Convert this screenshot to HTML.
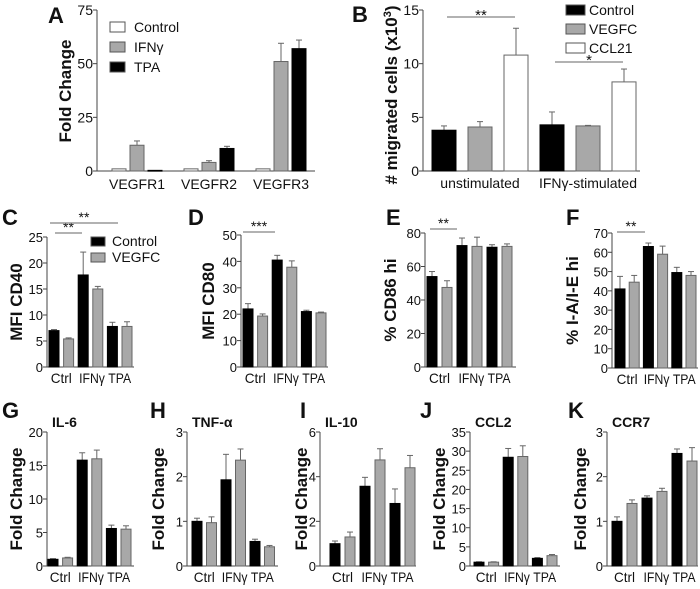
<!DOCTYPE html>
<html><head><meta charset="utf-8">
<style>
html,body{margin:0;padding:0;background:#fff;}
svg{display:block;font-family:"Liberation Sans",Arial,sans-serif;}
</style></head>
<body>
<svg id="fig" width="700" height="589" viewBox="0 0 700 589" xmlns="http://www.w3.org/2000/svg"></svg>
<script>
// ---------- Panel A data ----------
const aCategories = ["VEGFR1","VEGFR2","VEGFR3"];
const aSeries = ["Control","IFNγ","TPA"];
const aControl = [1, 1, 1];
const aIFN = [12, 4, 51];
const aTPA = [0.3, 10.5, 57];
const aControlErr = [0, 0, 0];
const aIFNErr = [2, 0.8, 8.5];
const aTPAErr = [0, 1, 4];
const aTicks = [0, 25, 50, 75];
// ---------- Panel B data ----------
const bCategories = ["unstimulated","IFNγ-stimulated"];
const bSeries = ["Control","VEGFC","CCL21"];
const bControl = [3.8, 4.3];
const bVEGFC = [4.1, 4.2];
const bCCL21 = [10.8, 8.3];
const bControlErr = [0.4, 1.2];
const bVEGFCErr = [0.5, 0.05];
const bCCL21Err = [2.5, 1.2];
const bTicks = [0, 5, 10, 15];
// ---------- Panels C-K data (Ctrl, IFNγ, TPA) ----------
const condLabels = ["Ctrl","IFNγ TPA"];
const cControl = [7, 17.7, 7.8], cVEGFC = [5.4, 15, 7.8];
const cControlErr = [0.2, 4.4, 0.8], cVEGFCErr = [0.2, 0.5, 0.9];
const cTicks = [0,5,10,15,20,25];
const dControl = [22, 40.5, 21], dVEGFC = [19.3, 37.8, 20.5];
const dControlErr = [2, 1.8, 0.5], dVEGFCErr = [0.8, 2.4, 0.3];
const dTicks = [0,10,20,30,40,50];
const eControl = [54, 72.5, 71.5], eVEGFC = [47.5, 72, 72];
const eControlErr = [3, 4.5, 1.5], eVEGFCErr = [4, 5.5, 1.5];
const eTicks = [0,20,40,60,80];
const fControl = [41, 63, 49.5], fVEGFC = [44.5, 59, 48];
const fControlErr = [6.5, 1.8, 2.7], fVEGFCErr = [3.5, 4.2, 2];
const fTicks = [0,10,20,30,40,50,60,70];
const gControl = [1, 15.8, 5.6], gVEGFC = [1.2, 16, 5.5];
const gControlErr = [0.1, 1.1, 0.5], gVEGFCErr = [0.1, 1.3, 0.5];
const gTicks = [0,5,10,15,20];
const hControl = [1, 1.93, 0.55], hVEGFC = [0.97, 2.37, 0.43];
const hControlErr = [0.07, 0.57, 0.05], hVEGFCErr = [0.13, 0.25, 0.03];
const hTicks = [0,1,2,3];
const iControl = [1, 3.57, 2.8], iVEGFC = [1.3, 4.75, 4.4];
const iControlErr = [0.12, 0.4, 0.65], iVEGFCErr = [0.22, 0.5, 0.55];
const iTicks = [0,2,4,6];
const jControl = [1, 28.4, 2], jVEGFC = [1, 28.6, 2.7];
const jControlErr = [0.1, 2.3, 0.2], jVEGFCErr = [0.1, 2.8, 0.3];
const jTicks = [0,5,10,15,20,25,30,35];
const kControl = [1, 1.52, 2.52], kVEGFC = [1.4, 1.67, 2.35];
const kControlErr = [0.1, 0.05, 0.1], kVEGFCErr = [0.08, 0.07, 0.3];
const kTicks = [0,1,2,3];

const NS = "http://www.w3.org/2000/svg";
const svg = document.getElementById('fig');
const AX = "#444", GRAY = "#a8a8a8";
function el(tag, attrs, parent){
  const e = document.createElementNS(NS, tag);
  for (const k in attrs) e.setAttribute(k, attrs[k]);
  (parent||svg).appendChild(e);
  return e;
}
function txt(s, x, y, size, opts, name){
  const t = el('text', {x:x, y:y, 'font-size':size, fill:'#111'});
  if (opts.anchor) t.setAttribute('text-anchor', opts.anchor);
  if (opts.bold) t.setAttribute('font-weight', 'bold');
  if (opts.rot) t.setAttribute('transform', 'rotate(-90 '+x+' '+y+')');
  if (opts.len) { t.setAttribute('textLength', opts.len); t.setAttribute('lengthAdjust', 'spacingAndGlyphs'); }
  t.textContent = s;
  
  
  return t;
}
function yAxis(p){
  const y = v => p.yBot - (v / p.max) * (p.yBot - p.yTop);
  const ax = el('line', {x1:p.ax, x2:p.ax, y1:p.yTop, y2:p.yBot, stroke:AX, 'stroke-width':1});
  
  
  const xa = el('line', {x1:p.ax, x2:p.xEnd, y1:p.yBot, y2:p.yBot, stroke:AX, 'stroke-width':1});
  
  
  p.ticks.forEach(t => {
    const tk = el('line', {x1:p.ax-4, x2:p.ax, y1:y(t), y2:y(t), stroke:AX});
    
    
    txt(String(t), p.ax-4, y(t)+5, p.tickSize||13, {anchor:'end'}, p.id+'-y-tick-label');
  });
  return y;
}
function bar(p, y, x, w, v, e, fill, name){
  const top = y(v);
  if (e > 0) {
    const ln = el('line', {x1:x+w/2, x2:x+w/2, y1:y(v+e), y2:top, stroke:'#666'});
    
    
    const cap = el('line', {x1:x+w/2-3, x2:x+w/2+3, y1:y(v+e), y2:y(v+e), stroke:'#666'});
    
    
  }
  const r = el('rect', {x:x, y:top, width:w, height:Math.max(0.8, p.yBot-top), fill:fill, stroke:(fill==='#000'?'#000':'#666'), 'stroke-width':1});
  
  
}

// ---------- Panel A ----------
(function(){
  const p = {id:'a', ax:97, yTop:10, yBot:171, max:75, xEnd:315, ticks:aTicks, tickSize:14};
  const y = yAxis(p);
  const vals = [aControl, aIFN, aTPA], errs = [aControlErr, aIFNErr, aTPAErr];
  const fills = ['#fff', GRAY, '#000'];
  aCategories.forEach((c, i) => {
    for (let s = 0; s < 3; s++) bar(p, y, 112 + i*72 + s*18, 14, vals[s][i], errs[s][i], fills[s], 'bar-a-'+c.toLowerCase()+'-'+s);
    txt(c, 137 + i*72, 189, 14, {anchor:'middle'}, 'a-x-label');
  });
  txt('A', 48, 23, 22, {bold:true}, 'panel-label-a');
  txt('Fold Change', 71, 91, 17, {bold:true, anchor:'middle', rot:true}, 'a-y-axis-title');
  aSeries.forEach((s, i) => {
    const r = el('rect', {x:110, y:22+i*20, width:15, height:10, fill:fills[i], stroke:'#555'});
    
    
    txt(s, 134, 32+i*20, 14, {}, 'legend-entry-a');
  });
})();

// ---------- Panel B ----------
(function(){
  const p = {id:'b', ax:423, yTop:10, yBot:171, max:15, xEnd:640, ticks:bTicks, tickSize:14};
  const y = yAxis(p);
  const vals = [bControl, bVEGFC, bCCL21], errs = [bControlErr, bVEGFCErr, bCCL21Err];
  const fills = ['#000', GRAY, '#fff'];
  bCategories.forEach((c, i) => {
    for (let s = 0; s < 3; s++) bar(p, y, 432 + i*108 + s*36, 24, vals[s][i], errs[s][i], fills[s], 'bar-b-'+i+'-'+s);
    txt(c, 480 + i*108, 188, 14, {anchor:'middle'}, 'b-x-label');
  });
  txt('B', 352, 22, 22, {bold:true}, 'panel-label-b');
  const t = txt('# migrated cells (x10', 397, 95, 17, {bold:true, anchor:'middle', rot:true}, 'b-y-axis-title');
  const sup = el('tspan', {'baseline-shift':'super', 'font-size':11}, t); sup.textContent='3';
  const cl = el('tspan', {}, t); cl.textContent=')';
  const l1 = el('line', {x1:447, x2:515, y1:17, y2:17, stroke:'#666'});
   
  txt('**', 481, 20, 15, {anchor:'middle'}, 'b-significance-1');
  const l2 = el('line', {x1:555, x2:623, y1:62, y2:62, stroke:'#666'});
   
  txt('*', 589, 65, 15, {anchor:'middle'}, 'b-significance-2');
  bSeries.forEach((s, i) => {
    const r = el('rect', {x:566, y:5+i*19, width:19, height:10, fill:fills[i], stroke:'#555'});
    
    
    txt(s, 589, 15+i*19, 14, {}, 'legend-entry-b');
  });
})();

// ---------- Panels C-K ----------
const small = [
  {id:'c', L:'C', title:'MFI CD40', ax:47, first:49, step:14.6, top:237, bot:367, max:25, ticks:cTicks, c:cControl, g:cVEGFC, ce:cControlErr, ge:cVEGFCErr, lx:2, tx:15, end:134},
  {id:'d', L:'D', title:'MFI CD80', ax:241, first:243, step:14.6, top:235, bot:367, max:50, ticks:dTicks, c:dControl, g:dVEGFC, ce:dControlErr, ge:dVEGFCErr, lx:188, tx:207, end:328},
  {id:'e', L:'E', title:'% CD86 hi', ax:425, first:427, step:15, top:233, bot:367, max:80, ticks:eTicks, c:eControl, g:eVEGFC, ce:eControlErr, ge:eVEGFCErr, lx:386, tx:389, end:516},
  {id:'f', L:'F', title:'% I-A/I-E hi', ax:612, first:615, step:14.2, top:233, bot:368, max:70, ticks:fTicks, c:fControl, g:fVEGFC, ce:fControlErr, ge:fVEGFCErr, lx:566, tx:571, end:698},
  {id:'g', L:'G', title:'Fold Change', sub:'IL-6', ax:47, first:48, step:14.6, top:432, bot:566, max:20, ticks:gTicks, c:gControl, g:gVEGFC, ce:gControlErr, ge:gVEGFCErr, lx:2, tx:15, end:134},
  {id:'h', L:'H', title:'Fold Change', sub:'TNF-α', ax:187, first:192, step:14.5, top:432, bot:566, max:3, ticks:hTicks, c:hControl, g:hVEGFC, ce:hControlErr, ge:hVEGFCErr, lx:150, tx:157, end:278},
  {id:'i', L:'I', title:'Fold Change', sub:'IL-10', ax:320, first:330, step:15, top:432, bot:566, max:6, ticks:iTicks, c:iControl, g:iVEGFC, ce:iControlErr, ge:iVEGFCErr, lx:300, tx:300, end:416},
  {id:'j', L:'J', title:'Fold Change', sub:'CCL2', ax:470, first:474, step:14.6, top:432, bot:566, max:35, ticks:jTicks, c:jControl, g:jVEGFC, ce:jControlErr, ge:jVEGFCErr, lx:420, tx:438, end:560},
  {id:'k', L:'K', title:'Fold Change', sub:'CCR7', ax:607, first:612, step:15, top:432, bot:566, max:3, ticks:kTicks, c:kControl, g:kVEGFC, ce:kControlErr, ge:kVEGFCErr, lx:568, tx:579, end:698}
];
small.forEach(p => {
  const cfg = {id:p.id, ax:p.ax, yTop:p.top, yBot:p.bot, max:p.max, xEnd:p.end, ticks:p.ticks, tickSize:13};
  const y = yAxis(cfg);
  for (let i = 0; i < 3; i++) {
    bar(cfg, y, p.first + (2*i)*p.step, 10, p.c[i], p.ce[i], '#000', 'bar-'+p.id+'-control-'+i);
    bar(cfg, y, p.first + (2*i+1)*p.step, 10, p.g[i], p.ge[i], GRAY, 'bar-'+p.id+'-vegfc-'+i);
  }
  const ly = p.bot + 16;
  txt(condLabels[0], p.first + p.step*0.5 + 5, ly, 14, {anchor:'middle', len:21}, p.id+'-x-label-ctrl');
  txt(condLabels[1], p.first + p.step*3.5 + 5, ly, 14, {anchor:'middle', len:52}, p.id+'-x-label-treat');
  const rowTop = p.top < 300 ? 225 : 418;
  txt(p.L, p.lx, rowTop, 22, {bold:true}, 'panel-label-'+p.id);
  txt(p.title, p.tx + 7, (p.top + p.bot)/2, 17, {bold:true, anchor:'middle', rot:true}, p.id+'-y-axis-title');
  if (p.sub) txt(p.sub, p.ax + 5, 427, 14, {bold:true}, p.id+'-chart-title');
});
// significance markers row 2
function sig(x1, x2, yy, s, name){
  const l = el('line', {x1:x1, x2:x2, y1:yy, y2:yy, stroke:'#666'});
  
  
  txt(s, (x1+x2)/2, yy-1, 14, {anchor:'middle'}, name);
}
sig(55, 82, 233, '**', 'c-significance-1');
sig(50, 118, 223, '**', 'c-significance-2');
sig(243, 275, 232, '***', 'd-significance');
sig(430, 457, 229, '**', 'e-significance');
sig(617, 645, 232, '**', 'f-significance');
// legend C
['Control','VEGFC'].forEach((s, i) => {
  const r = el('rect', {x:91, y:237+i*16, width:14, height:9, fill:i?GRAY:'#000', stroke:'#555'});
  
  
  txt(s, 112, 246+i*16, 14, {}, 'legend-entry-c');
});
</script>
</body></html>
